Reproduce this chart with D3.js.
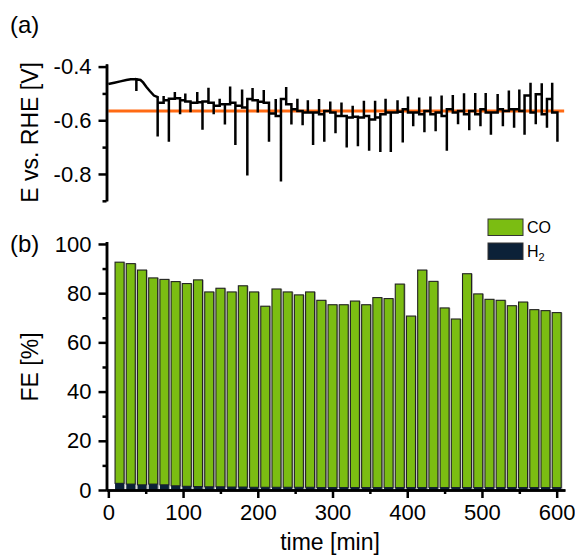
<!DOCTYPE html>
<html>
<head>
<meta charset="utf-8">
<script src="https://cdn.jsdelivr.net/npm/d3@7"></script>
<style>
  body { margin: 0; background: #fff; }
  svg text { font-family: Arial, "Liberation Sans", sans-serif; fill: #000; }
</style>
</head>
<body>
<svg id="chart" width="575" height="556"></svg>
<script>
// ---- data ----
// (b) faradaic efficiency, one injection every 15 min
const barTime = [15, 30, 45, 60, 75, 90, 105, 120, 135, 150, 165, 180, 195, 210, 225, 240, 255, 270, 285, 300,
                 315, 330, 345, 360, 375, 390, 405, 420, 435, 450, 465, 480, 495, 510, 525, 540, 555, 570, 585, 600];
const feH2 = [2.7, 2.4, 2.1, 2.4, 2.1, 1.7, 1.5, 1.4, 1.3, 1.3, 1.2, 1.2, 1.1, 1.1, 1.1, 1.1, 1.1, 1.1, 1.0, 1.0,
              1.0, 1.0, 1.0, 1.0, 1.0, 1.0, 1.0, 1.0, 1.0, 1.0, 1.0, 1.0, 1.0, 1.0, 1.0, 1.0, 1.0, 1.0, 1.0, 1.0];
const feCO = [89.9, 89.6, 87.3, 83.8, 83.5, 83.0, 82.4, 84.0, 79.2, 80.7, 79.3, 81.8, 79.4, 73.6, 80.6, 79.4, 78.2, 79.4, 76.1, 74.3,
              74.3, 75.8, 74.3, 77.2, 76.8, 82.7, 69.7, 88.4, 83.8, 73.0, 68.5, 86.9, 78.7, 76.5, 76.1, 73.9, 75.4, 72.3, 71.9, 71.1];

// (a) potential trace: smooth start, then one up/down spike pair per injection
const startT = [0, 8, 16, 24, 30, 37.5, 37.5, 37.5, 43, 46.5, 51, 55.5, 61, 66];
const startE = [-0.465, -0.460, -0.455, -0.450, -0.447, -0.447, -0.491, -0.447, -0.450, -0.459, -0.476, -0.491, -0.508, -0.514];
const spikeT = [66, 81, 96, 110, 126, 141, 156, 170, 186, 200, 215, 231, 245, 260, 274, 289, 304, 319, 334,
                349, 364, 378, 394, 408, 423, 438, 453, 468, 483, 498, 512, 528, 543, 557, 572, 587, 601];
const spikeDown = [-0.660, -0.680, -0.578, -0.570, -0.635, -0.578, -0.616, -0.692, -0.806, -0.571, -0.680, -0.828, -0.616,
                   -0.619, -0.692, -0.680, -0.648, -0.701, -0.697, -0.714, -0.718, -0.718, -0.683, -0.622, -0.645, -0.641,
                   -0.714, -0.615, -0.637, -0.622, -0.654, -0.622, -0.628, -0.654, -0.615, -0.628, -0.680];
const spikeUp = [-0.514, -0.510, -0.495, -0.500, -0.495, -0.479, -0.520, -0.474, -0.485, -0.480, -0.487, -0.521, -0.476,
                 -0.520, -0.525, -0.521, -0.530, -0.534, -0.546, -0.527, -0.527, -0.520, -0.525, -0.511, -0.515, -0.511,
                 -0.508, -0.506, -0.499, -0.498, -0.498, -0.502, -0.489, -0.485, -0.460, -0.462, -0.460];
const levelPre = [-0.514, -0.535, -0.520, -0.525, -0.535, -0.530, -0.546, -0.540, -0.546, -0.521, -0.531, -0.575, -0.521,
                  -0.559, -0.571, -0.571, -0.565, -0.584, -0.590, -0.590, -0.597, -0.578, -0.571, -0.559, -0.571, -0.565,
                  -0.571, -0.559, -0.565, -0.565, -0.559, -0.571, -0.565, -0.559, -0.508, -0.503, -0.521];
const levelPost = [-0.514, -0.525, -0.518, -0.530, -0.533, -0.535, -0.540, -0.535, -0.552, -0.525, -0.535, -0.584, -0.540,
                   -0.565, -0.571, -0.578, -0.571, -0.584, -0.587, -0.584, -0.590, -0.571, -0.568, -0.571, -0.578, -0.578,
                   -0.584, -0.571, -0.578, -0.578, -0.571, -0.559, -0.559, -0.565, -0.571, -0.578, -0.571];
const setPoint = -0.565;

const xTicks = [0, 100, 200, 300, 400, 500, 600];
const xMinor = [50, 150, 250, 350, 450, 550];
const eTicks = [-0.4, -0.6, -0.8];
const eMinor = [-0.5, -0.7, -0.9];
const feTicks = [0, 20, 40, 60, 80, 100];
const feMinor = [10, 30, 50, 70, 90];

const green = "#7bbd12", navy = "#0c2138";

// ---- scales ----
const svg = d3.select("#chart");
const x = d3.scaleLinear().domain([-3, 611]).range([106.1, 564.9]);
const yE = d3.scaleLinear().domain([-0.9, -0.39]).range([200.8, 63.9]);
const yF = d3.scaleLinear().domain([0, 101]).range([490, 241.5]);
const axisX = 106.5;

// ---- panel (a) ----
svg.append("line")
  .attr("x1", x(0)).attr("x2", x(610))
  .attr("y1", yE(setPoint)).attr("y2", yE(setPoint))
  .attr("stroke", "#ff6a13").attr("stroke-width", 3);

let trace = startT.map((t, i) => [t, startE[i]]);
spikeT.forEach((t, i) => {
  const tu = t - 7;
  if (i > 0) {
    trace.push([tu, levelPre[i]], [tu, spikeUp[i]], [tu, levelPost[i]]);
  }
  trace.push([t, levelPost[i]], [t, spikeDown[i]]);
  if (i < spikeT.length - 1) trace.push([t, levelPre[i + 1]]);
});

svg.append("path")
  .datum(trace)
  .attr("fill", "none")
  .attr("stroke", "#000")
  .attr("stroke-width", 2.5)
  .attr("d", d3.line().x(d => x(d[0])).y(d => yE(d[1])));

const gEa = svg.append("g").attr("transform", `translate(${axisX},0)`)
  .call(d3.axisLeft(yE).tickValues(eTicks).tickSize(8).tickSizeOuter(0).tickPadding(7)
    .tickFormat(d => d.toFixed(1)));
const gEm = svg.append("g").attr("transform", `translate(${axisX},0)`)
  .call(d3.axisLeft(yE).tickValues(eMinor).tickSize(4).tickSizeOuter(0).tickFormat(""));

// ---- panel (b) ----
const bw = 9;
const bars = svg.append("g");
barTime.forEach((t, i) => {
  const cx = x(t);
  const top = yF(feH2[i] + feCO[i]);
  bars.append("rect")
    .attr("x", cx - bw / 2 + 1.2).attr("y", top)
    .attr("width", bw).attr("height", yF(0) - top)
    .attr("fill", "#a8a8a8");
  bars.append("rect")
    .attr("x", cx - bw / 2).attr("y", top)
    .attr("width", bw).attr("height", yF(feH2[i]) - top)
    .attr("fill", green).attr("stroke", "#222").attr("stroke-width", 1.1);
  bars.append("rect")
    .attr("x", cx - bw / 2).attr("y", yF(feH2[i]))
    .attr("width", bw).attr("height", yF(0) - yF(feH2[i]))
    .attr("fill", navy);
});

const gFa = svg.append("g").attr("transform", `translate(${axisX},0)`)
  .call(d3.axisLeft(yF).tickValues(feTicks).tickSize(8).tickSizeOuter(0).tickPadding(7));
const gFm = svg.append("g").attr("transform", `translate(${axisX},0)`)
  .call(d3.axisLeft(yF).tickValues(feMinor).tickSize(4).tickSizeOuter(0).tickFormat(""));

const gXa = svg.append("g").attr("transform", `translate(0,${yF(0)})`)
  .call(d3.axisBottom(x).tickValues(xTicks).tickSize(8).tickSizeOuter(0).tickPadding(6));
const gXm = svg.append("g").attr("transform", `translate(0,${yF(0)})`)
  .call(d3.axisBottom(x).tickValues(xMinor).tickSize(4).tickSizeOuter(0).tickFormat(""));

[gEa, gEm, gFa, gFm, gXa, gXm].forEach(g => {
  g.selectAll("path, line").attr("stroke", "#000").attr("stroke-width", 2.5);
  g.selectAll("text").style("font-size", "22px").attr("fill", "#000");
});

// ---- legend ----
const leg = [{ name: "CO", color: green, y: 219 }, { name: "H2", color: navy, y: 243 }];
leg.forEach(d => {
  svg.append("rect").attr("x", 488).attr("y", d.y).attr("width", 35).attr("height", 16.5)
    .attr("fill", d.color).attr("stroke", "#333").attr("stroke-width", 1);
});
svg.append("text").attr("x", 527).attr("y", 233).style("font-size", "16px").text("CO");
const h2 = svg.append("text").attr("x", 527).attr("y", 257).style("font-size", "16px");
h2.append("tspan").text("H");
h2.append("tspan").attr("dy", 4).style("font-size", "11px").text("2");

// ---- titles ----
svg.append("text").attr("x", 10).attr("y", 33).style("font-size", "24px").text("(a)");
svg.append("text").attr("x", 10).attr("y", 252).style("font-size", "24px").text("(b)");
svg.append("text")
  .attr("transform", `translate(38,${(yE(-0.39) + yE(-0.9)) / 2}) rotate(-90)`)
  .attr("text-anchor", "middle").style("font-size", "23px").text("E vs. RHE [V]");
svg.append("text")
  .attr("transform", `translate(38,${yF(50)}) rotate(-90)`)
  .attr("text-anchor", "middle").style("font-size", "23px").text("FE [%]");
svg.append("text")
  .attr("x", 330).attr("y", 550)
  .attr("text-anchor", "middle").style("font-size", "23px").text("time [min]");
</script>
</body>
</html>
